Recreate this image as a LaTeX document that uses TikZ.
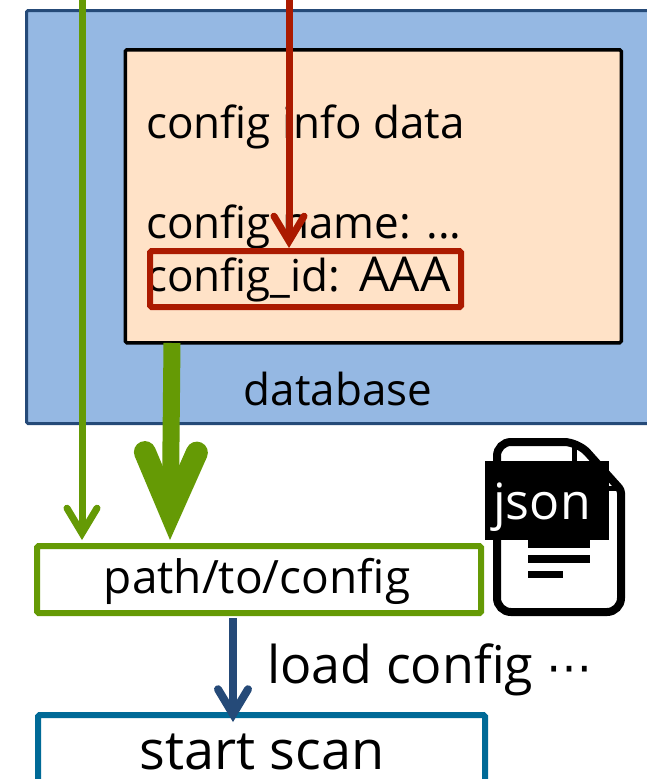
\documentclass[tikz,border=0pt]{standalone}
\usepackage{fontspec}
\setmainfont{Open Sans}
\newfontfamily\symbolfont{DejaVu Sans}
\usetikzlibrary{arrows.meta}
\definecolor{dbblue}{HTML}{95B8E3}
\definecolor{dbedge}{HTML}{254A78}
\definecolor{infofill}{HTML}{FFE2C7}
\definecolor{redline}{HTML}{AB1A00}
\definecolor{greenline}{HTML}{659A05}
\definecolor{tealline}{HTML}{006A97}
\tikzset{
  framebox/.style={draw,rounded corners=1.5pt,inner sep=0pt,anchor=north west},
  thinbarb/.style={-{Straight Barb[length=25pt,width=30pt,line cap=round,line join=miter]}},
  thickbarb/.style={-{Straight Barb[length=60pt,width=52pt,line width=22pt,line cap=round,line join=miter]}}
}
\begin{document}
\begin{tikzpicture}[x=1pt,y=-1pt]
\useasboundingbox (0,0) rectangle (647,779);
\node [framebox,fill=dbblue,draw=dbedge,line width=3pt,minimum width=660pt,minimum height=413pt] (db) at (25,9) {};
\node [framebox,fill=infofill,draw=black,line width=3.5pt,minimum width=496pt,minimum height=293pt] (info) at (123.5,48) {};
\node [font=\fontsize{44}{52.5}\selectfont,align=left,anchor=north west,inner sep=0pt] (infotext) at (146,105) {config info data\\[-2.5pt]\\[-2.5pt]config name: ...\\config\_id:\hspace{19pt}{\fontsize{48}{52.5}\selectfont AAA}};
\node [framebox,draw=redline,line width=6pt,minimum width=311pt,minimum height=56pt] (idbox) at (147,248) {};
\node [font=\fontsize{44}{44}\selectfont] (dblabel) at (338,389) {database};
\node [framebox,fill=white,draw=greenline,line width=6pt,minimum width=444pt,minimum height=67pt] (pathbox) at (34,543) {};
\node [font=\fontsize{46}{46}\selectfont,inner sep=0pt] (pathlabel) at (257,581) {path/to/config};
\node [framebox,fill=white,draw=tealline,line width=6pt,minimum width=447pt,minimum height=90pt] (scanbox) at (35,712) {};
\node [font=\fontsize{54}{54}\selectfont,inner sep=0pt] (scanlabel) at (262,752) {start scan};
\node [font=\fontsize{52}{52}\selectfont,anchor=west,inner sep=0pt] (loadlabel) at (267,670) {load config {\symbolfont\fontsize{46}{46}\selectfont ⋯}};
% json file icon
\draw [line width=8pt,fill=white,rounded corners=14pt] (497,442) -- (578,442) [rounded corners=3pt] -- (621,490) [rounded corners=14pt] -- (621,612) -- (497,612) -- cycle;
\draw [line width=5pt] (574,442) -- (574,488) -- (621,488);
\fill [black] (528,540) rectangle (590,548);
\fill [black] (528,555) rectangle (590,563);
\fill [black] (528,571) rectangle (563,578);
\fill [black] (485,461) rectangle (609,540);
\node [text=white,font=\fontsize{50}{50}\selectfont,inner sep=0pt] (jsonlabel) at (542,507) {json};
% arrows
\coordinate (thintop) at (82,-5);
\coordinate (redtop) at (289,-5);
\coordinate (thickstart) at (172,343);
\coordinate (thickend) at (170,540);
\coordinate (bluestart) at (233,618);
\draw [greenline,line width=7pt,thinbarb] (thintop) -- ([yshift=3pt]thintop |- pathbox.north);
\draw [greenline,line width=17pt,thickbarb] (thickstart) -- (thickend);
\draw [redline,line width=7pt,thinbarb] (redtop) -- (redtop |- idbox.north);
\draw [dbedge,line width=8pt,thinbarb] (bluestart) -- ([yshift=-10pt]bluestart |- scanbox.north);
\end{tikzpicture}
\end{document}
